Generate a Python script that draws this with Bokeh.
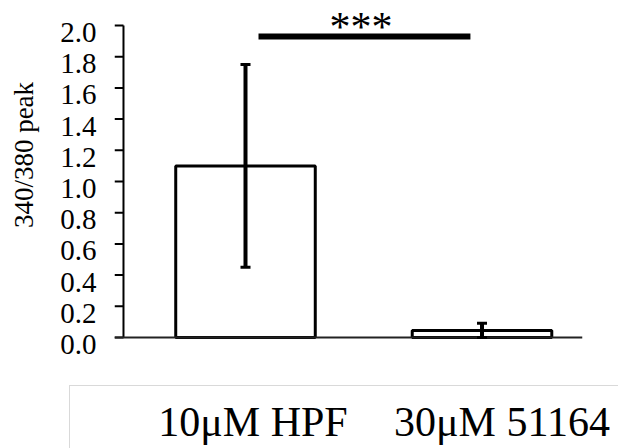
from bokeh.plotting import figure
from bokeh.models import (Range1d, LinearAxis, FixedTicker, PrintfTickFormatter,
                          Whisker, TeeHead, ColumnDataSource, Div, Span)
from bokeh.layouts import column, row
from bokeh.core.properties import value
from bokeh.embed import file_html
from bokeh.resources import INLINE

# ---- data ----
categories = ["10μM HPF", "30μM 51164"]
cat_pos = [1, 2]
means = [1.10, 0.045]
errors = [0.65, 0.047]
y_ticks = [0.0, 0.2, 0.4, 0.6, 0.8, 1.0, 1.2, 1.4, 1.6, 1.8, 2.0]
y_label = "340/380 peak"
sig_text = "***"

FONT = "Liberation Serif"

src = ColumnDataSource(dict(
    x=cat_pos,
    top=means,
    upper=[m + e for m, e in zip(means, errors)],
    lower=[max(m - e, 0) for m, e in zip(means, errors)],
))

X_START, X_END = 0.4461, 2.4249      # frame edges in x
X_AXIS = 0.4841                       # where the drawn y-axis line sits
Y_START, Y_END = -0.1026, 2.109

# ---------------- main chart ----------------
p = figure(width=578, height=385,
           x_range=Range1d(X_START, X_END), y_range=Range1d(Y_START, Y_END),
           x_axis_location=None, y_axis_location=None,
           output_backend="svg", toolbar_location=None,
           min_border_left=74, min_border_right=36, min_border_top=8,
           min_border_bottom=32)
p.outline_line_color = None
p.grid.visible = False
p.background_fill_color = "white"
p.border_fill_color = "white"

# y tick labels sit slightly below their ticks, as in the original
SHIFT = 0.0449
p.extra_y_ranges = {"lab": Range1d(Y_START + SHIFT, Y_END + SHIFT)}
yl = LinearAxis(y_range_name="lab", ticker=FixedTicker(ticks=y_ticks),
                formatter=PrintfTickFormatter(format="%.1f"))
yl.axis_line_color = None
yl.major_tick_line_color = None
yl.minor_tick_line_color = None
yl.major_tick_in = 0
yl.major_tick_out = 0
yl.major_label_standoff = 18
yl.major_label_text_font = FONT
yl.major_label_text_font_size = "29px"
yl.major_label_text_color = "black"
p.add_layout(yl, "left")

# y axis line and tick marks
n = len(y_ticks)
p.segment(x0=[X_START] * n, y0=y_ticks, x1=[X_AXIS] * n, y1=y_ticks,
          line_color="black", line_width=2)
p.segment(x0=[X_AXIS], y0=[y_ticks[0]], x1=[X_AXIS], y1=[y_ticks[-1]],
          line_color="black", line_width=2)

# baseline (x axis line)
p.add_layout(Span(location=0, dimension="width", line_color="#222222", line_width=2))

# bars
p.vbar(x="x", top="top", bottom=0, width=0.59, source=src,
       fill_color="white", line_color="black", line_width=3)

# error bars
p.add_layout(Whisker(base="x", upper="upper", lower="lower", source=src,
                     level="overlay",
                     line_color="black", line_width=4,
                     upper_head=TeeHead(size=10, line_width=3, line_color="black"),
                     lower_head=TeeHead(size=10, line_width=3, line_color="black")))

# significance bar
p.segment(x0=[1.055], y0=[1.929], x1=[1.951], y1=[1.929],
          line_color="black", line_width=6, line_cap="butt")
p.text(x=[1.488], y=[1.99], text=[sig_text], text_font=value(FONT),
       text_font_size="42px", text_align="center", text_baseline="middle",
       text_color="black")

# ---------------- y axis title ----------------
ytitle_html = ('<div style="position:relative;width:40px;height:385px;">'
               '<div style="position:absolute;left:24px;top:155px;'
               'transform:translate(-50%,-50%) rotate(-90deg);white-space:nowrap;'
               "font-family:'Liberation Serif';font-size:27px;line-height:1;color:black;\">"
               + y_label + '</div></div>')
ytitle = Div(text=ytitle_html, width=40, height=385, margin=(0, 0, 0, 0))

# ---------------- category label box ----------------
spans = "".join(
    f'<span style="position:absolute;left:{183 + (pos - 1) * 249}px;top:15px;'
    f'transform:translateX(-50%);white-space:nowrap;line-height:1;">{lab}</span>'
    for lab, pos in zip(categories, cat_pos))
box_html = ('<div style="position:relative;box-sizing:border-box;width:549px;height:63px;'
            'border-top:1.5px solid #d9d9d9;border-left:1.5px solid #d9d9d9;'
            "font-family:'Liberation Serif';font-size:42px;color:black;overflow:hidden;\">"
            + spans + '</div>')
box = Div(text=box_html, width=549, height=63, margin=(0, 0, 0, 69))

layout = column(row(ytitle, p, spacing=0), box, spacing=0)
open("out.html", "w").write(file_html(layout, INLINE))
